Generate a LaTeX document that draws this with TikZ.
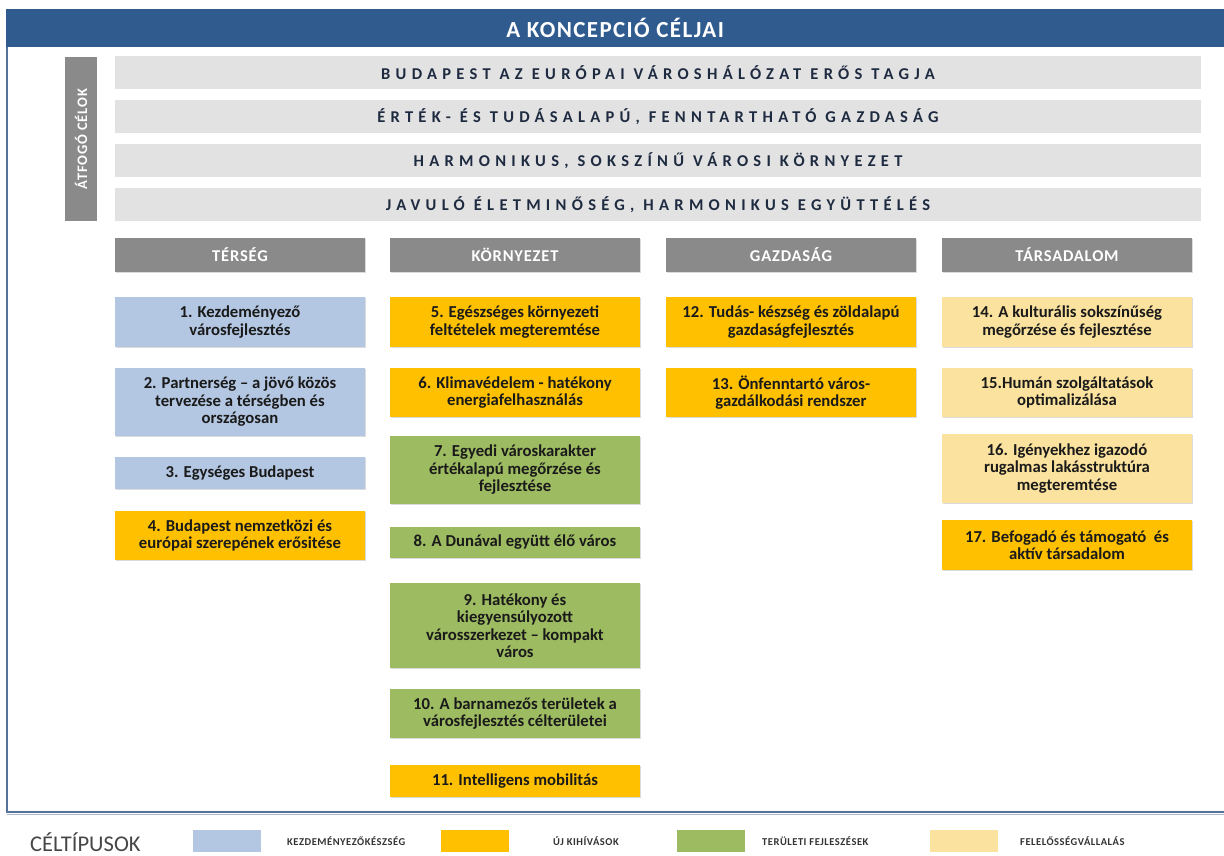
\documentclass[tikz,border=0pt]{standalone}
\usepackage{fontspec}
\usetikzlibrary{shadows}
\setmainfont{Carlito}
\definecolor{titleblue}{HTML}{2F5B8F}
\definecolor{frameblue}{HTML}{55739A}
\definecolor{bargray}{HTML}{E2E2E2}
\definecolor{headgray}{HTML}{8A8A8A}
\definecolor{cblue}{HTML}{B4C7E2}
\definecolor{corange}{HTML}{FFC000}
\definecolor{cgreen}{HTML}{9DBB61}
\definecolor{cyellow}{HTML}{FBE29E}
\definecolor{navytext}{HTML}{1E2A40}
\definecolor{boxtext}{HTML}{1A1A1A}
\tikzset{
  softshadow/.style={drop shadow={shadow xshift=0.6pt, shadow yshift=-1pt, opacity=0.14, fill=black}},
  goalbar/.style={fill=bargray, draw=none, minimum width=1086pt, minimum height=33pt, inner sep=0pt,
    font=\fontsize{16.5}{18}\selectfont\bfseries\addfontfeature{LetterSpace=32}, text=navytext},
  colhead/.style={fill=headgray, draw=none, minimum width=250pt, minimum height=34pt, inner sep=0pt, softshadow,
    font=\fontsize{16.5}{18}\selectfont\bfseries\addfontfeature{LetterSpace=5}, text=white},
  goalbox/.style={draw=none, minimum width=250pt, inner sep=0pt, align=center, text=boxtext, softshadow,
    font=\fontsize{16.7}{17.5}\selectfont\bfseries},
  swatch/.style={draw=none, minimum width=68pt, minimum height=22pt, inner sep=0pt},
  legtext/.style={anchor=west, inner sep=0pt, text=black!80,
    font=\fontsize{10.5}{11}\selectfont\bfseries\addfontfeature{LetterSpace=5}}
}
\begin{document}
\begin{tikzpicture}[x=1pt,y=-1pt]
\useasboundingbox (0,0) rectangle (1224,856);
\fill[white] (0,0) rectangle (1224,856);
% frame
\draw[frameblue, line width=1.2pt] (7,40) -- (7,812) -- (1224,812);
\draw[frameblue!50, line width=1pt] (7,814) -- (1224,814);
% title
\node[fill=titleblue, minimum width=1218pt, minimum height=38pt, inner sep=0pt, anchor=north west,
  text=white, font=\fontsize{23}{26}\selectfont\bfseries\addfontfeature{LetterSpace=6}] (title) at (6,9) {A KONCEPCIÓ CÉLJAI};
% side label
\node[fill=headgray, minimum width=164pt, minimum height=32pt, inner sep=0pt, rotate=90,
  text=white, font=\fontsize{14.5}{16}\selectfont\bfseries\addfontfeature{LetterSpace=6}] (side) at (81,139) {ÁTFOGÓ CÉLOK};
% goal bars
\node[goalbar] (g1) at (658,73) {BUDAPEST AZ EURÓPAI VÁROSHÁLÓZAT ERŐS TAGJA};
\node[goalbar] (g2) at (658,117) {ÉRTÉK- ÉS TUDÁSALAPÚ, FENNTARTHATÓ GAZDASÁG};
\node[goalbar] (g3) at (658,160.5) {HARMONIKUS, SOKSZÍNŰ VÁROSI KÖRNYEZET};
\node[goalbar] (g4) at (658,204.5) {JAVULÓ ÉLETMINŐSÉG, HARMONIKUS EGYÜTTÉLÉS};
% column headers
\node[colhead] (h1) at (240,255) {TÉRSÉG};
\node[colhead] (h2) at (515,255) {KÖRNYEZET};
\node[colhead] (h3) at (791,255) {GAZDASÁG};
\node[colhead] (h4) at (1067,255) {TÁRSADALOM};
% column 1
\node[goalbox, fill=cblue, minimum height=50pt] (b1) at (240,322) {1. Kezdeményező\\városfejlesztés};
\node[goalbox, fill=cblue, minimum height=68pt] (b2) at (240,402) {2. Partnerség – a jövő közös\\tervezése a térségben és\\országosan};
\node[goalbox, fill=cblue, minimum height=32pt] (b3) at (240,473) {3. Egységes Budapest};
\node[goalbox, fill=corange, minimum height=49pt] (b4) at (240,535.5) {4. Budapest nemzetközi és\\európai szerepének erősitése};
% column 2
\node[goalbox, fill=corange, minimum height=50pt] (b5) at (515,322) {5. Egészséges környezeti\\feltételek megteremtése};
\node[goalbox, fill=corange, minimum height=49pt] (b6) at (515,392.5) {6. Klimavédelem - hatékony\\energiafelhasználás};
\node[goalbox, fill=cgreen, minimum height=68pt] (b7) at (515,470) {7. Egyedi városkarakter\\értékalapú megőrzése és\\fejlesztése};
\node[goalbox, fill=cgreen, minimum height=31pt] (b8) at (515,542.5) {8. A Dunával együtt élő város};
\node[goalbox, fill=cgreen, minimum height=85pt] (b9) at (515,625.5) {9. Hatékony és\\kiegyensúlyozott\\városszerkezet – kompakt\\város};
\node[goalbox, fill=cgreen, minimum height=49pt] (b10) at (515,713.5) {10. A barnamezős területek a\\városfejlesztés célterületei};
\node[goalbox, fill=corange, minimum height=32pt] (b11) at (515,781) {11. Intelligens mobilitás};
% column 3
\node[goalbox, fill=corange, minimum height=50pt] (b12) at (791,322) {12. Tudás- készség és zöldalapú\\gazdaságfejlesztés};
\node[goalbox, fill=corange, minimum height=49pt] (b13) at (791,392.5) {13. Önfenntartó város-\\gazdálkodási rendszer};
% column 4
\node[goalbox, fill=cyellow, minimum height=50pt] (b14) at (1067,322) {14. A kulturális sokszínűség\\megőrzése és fejlesztése};
\node[goalbox, fill=cyellow, minimum height=49pt] (b15) at (1067,392.5) {15.Humán szolgáltatások\\optimalizálása};
\node[goalbox, fill=cyellow, minimum height=69pt] (b16) at (1067,468.5) {16. Igényekhez igazodó\\rugalmas lakásstruktúra\\megteremtése};
\node[goalbox, fill=corange, minimum height=50pt] (b17) at (1067,545) {17. Befogadó és támogató\ \ és\\aktív társadalom};
% legend
\node[anchor=west, inner sep=0pt, text=black!72, font=\fontsize{22.5}{24}\selectfont] (lt) at (30,842) {CÉLTÍPUSOK};
\node[swatch, fill=cblue] (s1) at (227,841) {};
\node[legtext] (l1) at (287,841) {KEZDEMÉNYEZŐKÉSZSÉG};
\node[swatch, fill=corange] (s2) at (475,841) {};
\node[legtext] (l2) at (553,841) {ÚJ KIHÍVÁSOK};
\node[swatch, fill=cgreen] (s3) at (711,841) {};
\node[legtext] (l3) at (762,841) {TERÜLETI FEJLESZÉSEK};
\node[swatch, fill=cyellow] (s4) at (964,841) {};
\node[legtext] (l4) at (1020,841) {FELELŐSSÉGVÁLLALÁS};
\end{tikzpicture}
\end{document}
